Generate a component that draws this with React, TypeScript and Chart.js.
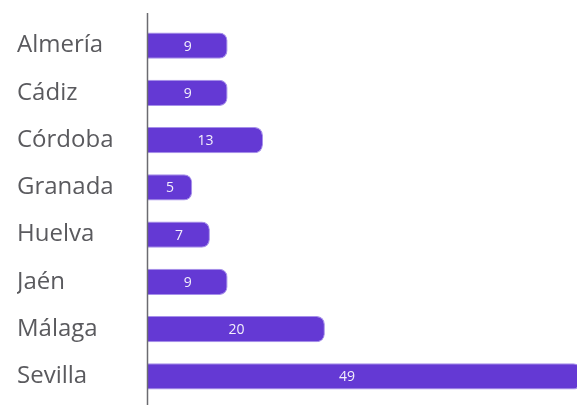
import React, { useEffect, useRef } from "react";
import { Chart, registerables } from "chart.js";

Chart.register(...registerables);

const categories: string[] = ["Almería", "Cádiz", "Córdoba", "Granada", "Huelva", "Jaén", "Málaga", "Sevilla"];
const values: number[] = [9, 9, 13, 5, 7, 9, 20, 49];
const xMax = 45;

const barColor = "#6439d4";
const barBorder = "#a690ea";
const axisColor = "#6b6b70";
const labelColor = "#5a5a5e";

const valueLabelPlugin = {
  id: "valueLabels",
  afterDatasetsDraw(chart: any) {
    const { ctx, chartArea } = chart;
    const meta = chart.getDatasetMeta(0);
    const data = chart.data.datasets[0].data as number[];
    ctx.save();
    ctx.font = "14px 'Open Sans'";
    ctx.fillStyle = "rgba(255,255,255,0.92)";
    ctx.textAlign = "center";
    ctx.textBaseline = "middle";
    meta.data.forEach((bar: any, i: number) => {
      const end = Math.min(bar.x, chartArea.right);
      const cx = (bar.base + end) / 2;
      ctx.fillText(String(data[i]), cx, bar.y + 1);
    });
    ctx.restore();
  },
};

const axisLinePlugin = {
  id: "axisLine",
  afterDraw(chart: any) {
    const { ctx, chartArea } = chart;
    const x = Math.round(chart.scales.x.getPixelForValue(0)) - 0.5;
    ctx.save();
    ctx.strokeStyle = axisColor;
    ctx.lineWidth = 1.5;
    ctx.beginPath();
    ctx.moveTo(x, chartArea.top - 9);
    ctx.lineTo(x, chart.height);
    ctx.stroke();
    ctx.restore();
  },
};

export default function App() {
  const ref = useRef<HTMLCanvasElement>(null);
  useEffect(() => {
    if (!ref.current) return;
    const chart = new Chart(ref.current, {
      type: "bar",
      data: {
        labels: categories,
        datasets: [
          {
            data: values,
            backgroundColor: barColor,
            borderColor: barBorder,
            borderWidth: 1,
            borderSkipped: "start",
            borderRadius: 8,
            categoryPercentage: 0.8,
            barPercentage: 0.7,
            clip: false as any,
          },
        ],
      },
      options: {
        indexAxis: "y",
        responsive: false,
        animation: false,
        devicePixelRatio: 1,
        layout: { padding: { top: 22, bottom: 5, left: 17, right: 31 } },
        plugins: { legend: { display: false }, tooltip: { enabled: false } },
        scales: {
          x: { display: false, min: 0, max: xMax },
          y: {
            grid: { display: false },
            border: { display: false },
            ticks: {
              crossAlign: "far",
              color: labelColor,
              font: { family: "'Open Sans'", size: 24 },
              padding: 0,
            },
            afterFit(scale: any) {
              scale.width = 131;
              scale.paddingTop = 0;
              scale.paddingBottom = 0;
            },
          },
        },
      },
      plugins: [valueLabelPlugin, axisLinePlugin],
    });
    return () => chart.destroy();
  }, []);
  return (
    <div style={{ position: "absolute", left: 0, top: 0, width: 577, height: 405, background: "#fff" }}>
      <canvas ref={ref} width={577} height={405} style={{ display: "block" }} />
    </div>
  );
}
